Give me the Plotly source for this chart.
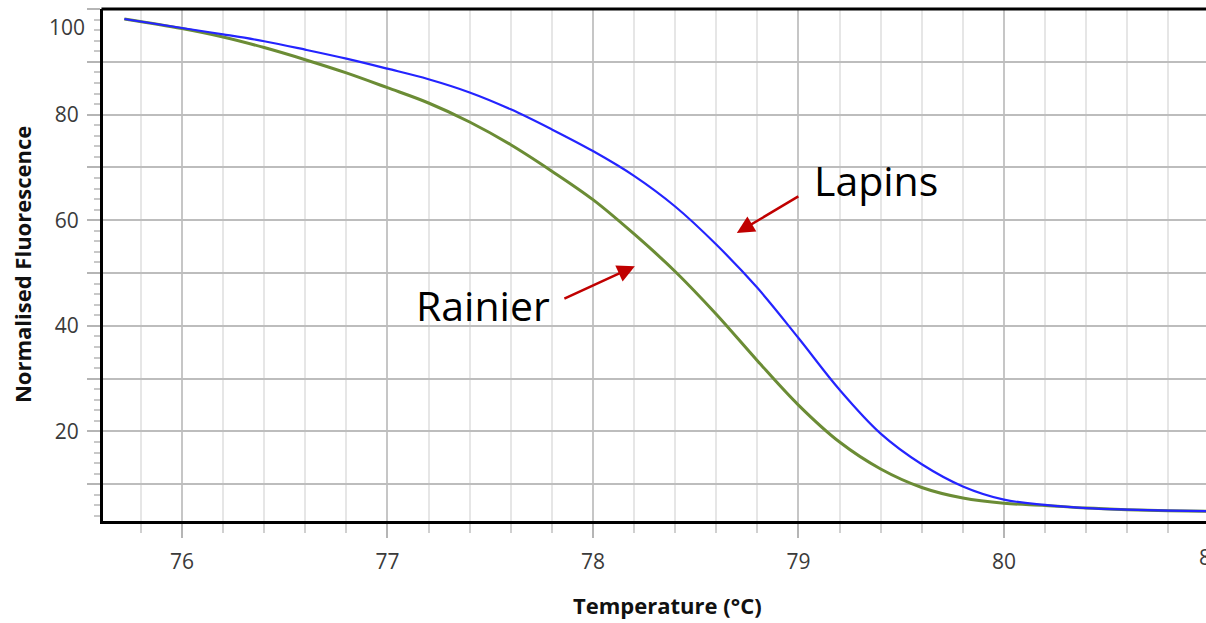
import plotly.graph_objects as go

temperature = [75.72, 76.0, 76.2, 76.4, 76.6, 76.8, 77.0, 77.2, 77.4, 77.6, 77.8, 78.0, 78.2,
               78.4, 78.6, 78.8, 79.0, 79.2, 79.4, 79.6, 79.8, 80.0, 80.2, 80.4, 80.6, 80.8, 81.0]
lapins = [98.1, 96.4, 95.2, 93.9, 92.3, 90.6, 88.7, 86.7, 84.2, 81.0, 77.2, 73.1, 68.4,
          62.6, 55.4, 47.2, 37.7, 27.9, 19.6, 13.8, 9.6, 7.1, 6.1, 5.5, 5.2, 5.0, 4.9]
rainier = [98.1, 96.3, 94.7, 92.7, 90.4, 87.9, 85.1, 82.2, 78.6, 74.3, 69.3, 63.9, 57.4,
           50.3, 42.2, 33.4, 25.0, 18.0, 12.9, 9.4, 7.4, 6.4, 6.0, 5.5, 5.2, 5.0, 4.9]
y_tickvals = [10, 20, 30, 40, 50, 60, 70, 80, 90, 100]
y_ticktext = ["", "20", "", "40", "", "60", "", "80", "", ""]
x_tickvals = [76, 77, 78, 79, 80, 81]

fig = go.Figure()
fig.add_trace(go.Scatter(x=temperature, y=rainier, mode="lines", name="Rainier",
                         line=dict(color="#6b8c35", width=3, shape="spline", smoothing=1.0)))
fig.add_trace(go.Scatter(x=temperature, y=lapins, mode="lines", name="Lapins",
                         line=dict(color="#2424ff", width=2.2, shape="spline", smoothing=1.0)))

tick_font = dict(family="Open Sans, DejaVu Sans, sans-serif", size=21, color="#3a3a3a")
title_font = dict(family="Open Sans, DejaVu Sans, sans-serif", size=22, color="#111111")
anno_font = dict(family="Open Sans, Liberation Sans, sans-serif", size=41, color="#000000")

fig.update_layout(
    width=1206, height=623,
    margin=dict(l=103, r=0, t=9, b=102, autoexpand=False),
    plot_bgcolor="white", paper_bgcolor="white",
    showlegend=False,
    xaxis=dict(
        range=[75.616, 80.983], tickvals=x_tickvals, ticks="outside", ticklen=14, tickwidth=2,
        tickcolor="#b5b5b5", tickfont=tick_font, ticklabelstandoff=6, automargin=False,
        showgrid=True, gridcolor="#c6c6c6", gridwidth=2,
        minor=dict(dtick=0.2, tick0=76, ticks="outside", ticklen=9, tickwidth=2, tickcolor="#d0d0d0",
                   showgrid=True, gridcolor="#e6e6e6", gridwidth=2),
        showline=True, linecolor="black", linewidth=3, mirror=False, zeroline=False,
    ),
    yaxis=dict(
        range=[3.05, 100.0], tickvals=y_tickvals, ticktext=y_ticktext, ticks="outside",
        ticklen=13, tickwidth=2, tickcolor="#b5b5b5", tickfont=tick_font, ticklabelstandoff=4,
        automargin=False,
        showgrid=True, gridcolor="#bdbdbd", gridwidth=1.5,
        minor=dict(dtick=2, tick0=0, ticks="outside", ticklen=6, tickwidth=2, tickcolor="#c8c8c8",
                   showgrid=False),
        showline=True, linecolor="black", linewidth=3, mirror=False, zeroline=False,
    ),
)

# top frame line
fig.add_shape(type="line", xref="paper", yref="paper", x0=-0.0014, x1=1.0, y0=1.0, y1=1.0,
              line=dict(color="black", width=3), layer="above")

annotations = [
    dict(text="100", xref="paper", yref="paper", x=-0.0508, y=0.965, xanchor="left",
         yanchor="middle", showarrow=False, font=tick_font),
    dict(text="81", xref="paper", yref="paper", x=(1210.5 - 103) / 1103, y=-0.07, xanchor="center",
         yanchor="middle", showarrow=False, font=tick_font),
    dict(text="<b>Temperature (°C)</b>", xref="paper", yref="paper", x=0.5122, y=-0.164,
         xanchor="center", yanchor="middle", showarrow=False, font=title_font),
    dict(text="<b>Normalised Fluorescence</b>", xref="paper", yref="paper", x=-0.0734, y=0.5,
         xanchor="center", yanchor="middle", textangle=-90, showarrow=False, font=title_font),
    dict(text="Lapins", x=79.377, y=67.7, xanchor="center", yanchor="middle", showarrow=False,
         font=anno_font),
    dict(text="Rainier", x=77.465, y=44.03, xanchor="center", yanchor="middle", showarrow=False,
         font=anno_font),
    dict(text="", x=78.70, y=57.58, ax=63, ay=-37.5, showarrow=True, arrowhead=2, arrowsize=1.4,
         arrowwidth=2.5, arrowcolor="#c00000"),
    dict(text="", x=78.204, y=51.29, ax=-72, ay=33, showarrow=True, arrowhead=2, arrowsize=1.4,
         arrowwidth=2.5, arrowcolor="#c00000"),
]
fig.update_layout(annotations=annotations)

fig.write_html("out.html", config={"displayModeBar": False},
               post_script="document.body.style.margin='0px';document.body.style.overflow='hidden';")
